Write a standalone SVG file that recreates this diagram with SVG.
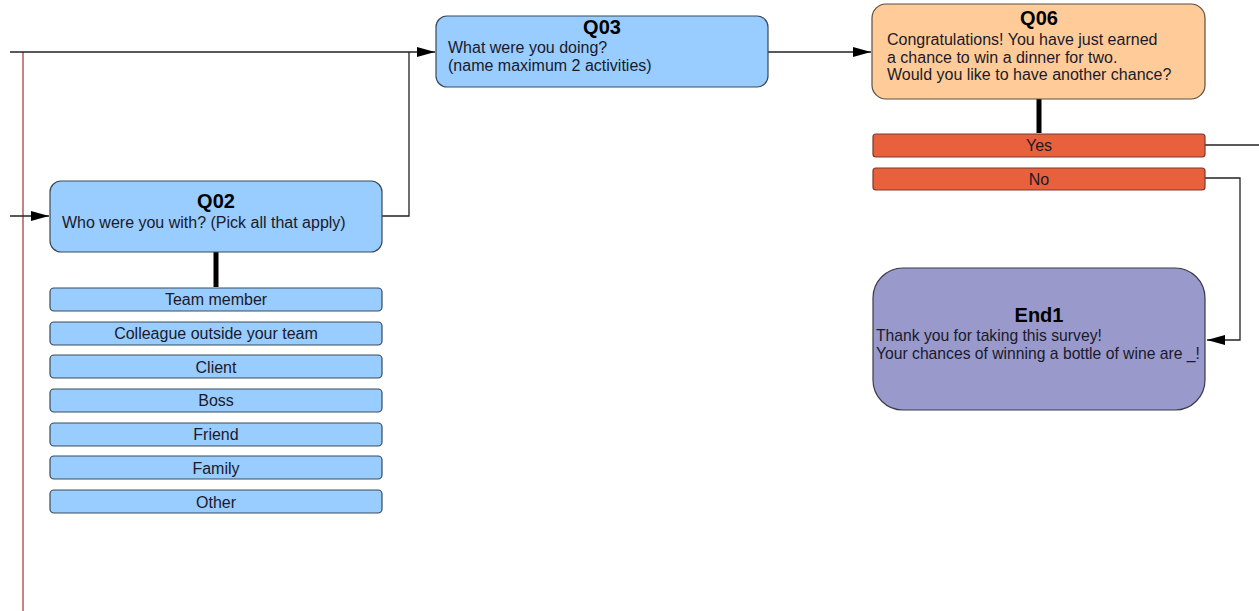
<svg xmlns="http://www.w3.org/2000/svg" width="1259" height="611" viewBox="0 0 1259 611">
<style>
text{font-family:"Liberation Sans",Arial,sans-serif;fill:#1a1a2a}
.t{font-size:20px;font-weight:bold;text-anchor:middle;fill:#000}
.b{font-size:16px}
.e{font-size:15.7px}
.o{font-size:16px;text-anchor:middle}
.q{fill:#99CCFF;stroke:#3a4a5a;stroke-width:1.2}
.q6{fill:#FFCC99;stroke:#5a5040;stroke-width:1.2}
.opt{fill:#99CCFF;stroke:#3a4a5a;stroke-width:1.2}
.ans{fill:#E8603C;stroke:#7a3a2a;stroke-width:1.2}
.end{fill:#9999CC;stroke:#3a3a4a;stroke-width:1.2}
.c{fill:none;stroke:#222;stroke-width:1.3}
.k{fill:none;stroke:#000;stroke-width:5}
</style>
<defs>
<marker id="ah" viewBox="0 0 18 12" refX="18" refY="6" markerWidth="18" markerHeight="12" markerUnits="userSpaceOnUse" orient="auto">
<path d="M0,1 L18,6 L0,11 z" fill="#000"/>
</marker>
</defs>
<g id="connectors">
<line x1="23" y1="52" x2="23" y2="611" stroke="#a03030" stroke-width="1.2"/>
<path class="c" d="M10,52 H435" marker-end="url(#ah)"/>
<path class="c" d="M10,216 H49" marker-end="url(#ah)"/>
<path class="c" d="M382,216 H409 V52"/>
<path class="c" d="M768,52 H871" marker-end="url(#ah)"/>
<path class="k" d="M216,252 V287"/>
<path class="k" d="M1039,99 V133"/>
<path class="c" d="M1205,145 H1259"/>
<path class="c" d="M1205,178 H1240 V340 H1207" marker-end="url(#ah)"/>
</g>
<g id="Q02">
<rect class="q" x="50" y="181" width="332" height="71" rx="11"/>
<text class="t" x="216" y="208">Q02</text>
<text class="b" x="62" y="228">Who were you with? (Pick all that apply)</text>
</g>
<g id="Q02-options">
<g id="opt-team-member"><rect class="opt" x="50" y="288" width="332" height="23" rx="4"/><text class="o" x="216" y="305">Team member</text></g>
<g id="opt-colleague"><rect class="opt" x="50" y="322" width="332" height="23" rx="4"/><text class="o" x="216" y="339">Colleague outside your team</text></g>
<g id="opt-client"><rect class="opt" x="50" y="355" width="332" height="23" rx="4"/><text class="o" x="216" y="373">Client</text></g>
<g id="opt-boss"><rect class="opt" x="50" y="389" width="332" height="23" rx="4"/><text class="o" x="216" y="406">Boss</text></g>
<g id="opt-friend"><rect class="opt" x="50" y="423" width="332" height="23" rx="4"/><text class="o" x="216" y="440">Friend</text></g>
<g id="opt-family"><rect class="opt" x="50" y="456" width="332" height="23" rx="4"/><text class="o" x="216" y="474">Family</text></g>
<g id="opt-other"><rect class="opt" x="50" y="490" width="332" height="23" rx="4"/><text class="o" x="216" y="508">Other</text></g>
</g>
<g id="Q03">
<rect class="q" x="436" y="16" width="332" height="71" rx="11"/>
<text class="t" x="602" y="34">Q03</text>
<text class="b" x="448" y="53">What were you doing?</text>
<text class="b" x="448" y="71">(name maximum 2 activities)</text>
</g>
<g id="Q06">
<rect class="q6" x="872" y="4" width="333" height="95" rx="14"/>
<text class="t" x="1039" y="25">Q06</text>
<text class="b" x="887" y="45">Congratulations! You have just earned</text>
<text class="b" x="887" y="63">a chance to win a dinner for two.</text>
<text class="b" x="887" y="80">Would you like to have another chance?</text>
</g>
<g id="Q06-yes"><rect class="ans" x="873" y="134" width="332" height="23" rx="3"/><text class="o" x="1039" y="151">Yes</text></g>
<g id="Q06-no"><rect class="ans" x="873" y="168" width="332" height="22" rx="3"/><text class="o" x="1039" y="185">No</text></g>
<g id="End1">
<rect class="end" x="873" y="268" width="332" height="142" rx="30"/>
<text class="t" x="1039" y="322">End1</text>
<text class="e" x="876" y="341">Thank you for taking this survey!</text>
<text class="e" x="876" y="359">Your chances of winning a bottle of wine are _!</text>
</g>
</svg>
